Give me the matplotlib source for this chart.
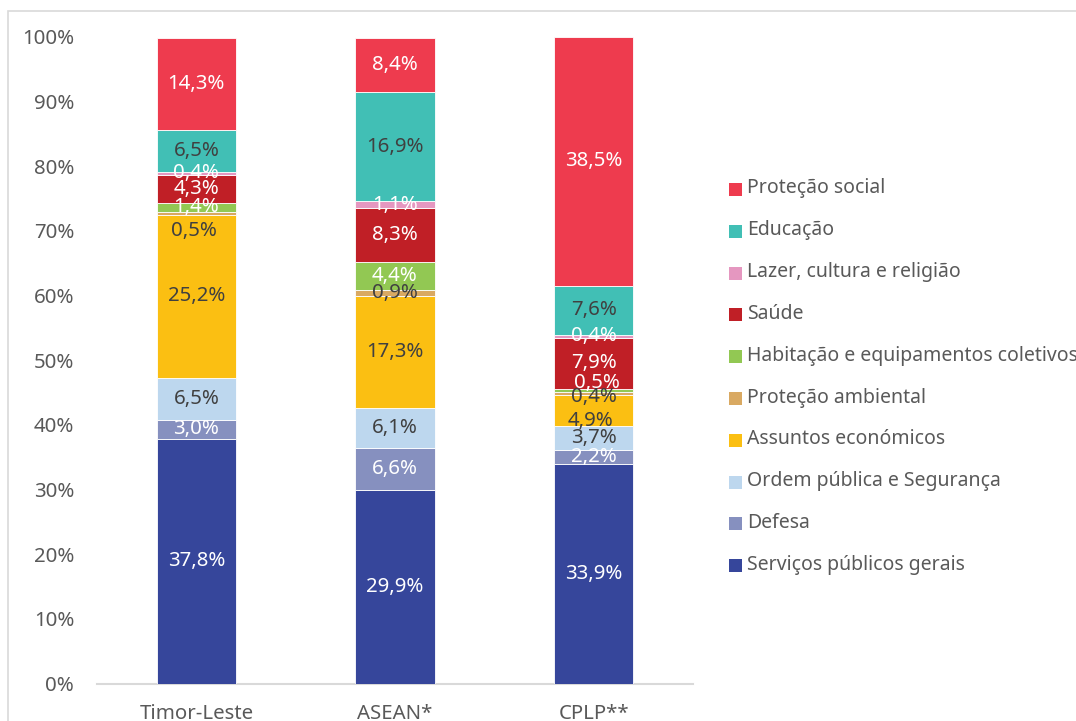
import matplotlib
matplotlib.use("Agg")
import matplotlib.pyplot as plt
from matplotlib.patches import Rectangle
import numpy as np

plt.rcParams['font.family'] = ['Noto Sans', 'DejaVu Sans']

# Regions compared
categories = ["Timor-Leste", "ASEAN*", "CPLP**"]

# Spending functions, bottom of the stack first
functions = [
    "Serviços públicos gerais",
    "Defesa",
    "Ordem pública e Segurança",
    "Assuntos económicos",
    "Proteção ambiental",
    "Habitação e equipamentos coletivos",
    "Saúde",
    "Lazer, cultura e religião",
    "Educação",
    "Proteção social",
]

# Share of expenditure (%) per function, one list per region
timor_leste = [37.8, 3.0, 6.5, 25.2, 0.5, 1.4, 4.3, 0.4, 6.5, 14.3]
asean = [29.9, 6.6, 6.1, 17.3, 0.9, 4.4, 8.3, 1.1, 16.9, 8.4]
cplp = [33.9, 2.2, 3.7, 4.9, 0.4, 0.5, 7.9, 0.4, 7.6, 38.5]

yticks = [0, 10, 20, 30, 40, 50, 60, 70, 80, 90, 100]

colors = ["#36469B", "#8690BF", "#BDD7EE", "#FBBF12", "#D9A962",
          "#92C853", "#C01F26", "#E597C0", "#41BFB5", "#EE3B4E"]
label_colors = ["white", "white", "#404040", "#404040", "#404040",
                "white", "white", "white", "#404040", "white"]

# Nudges (points) for labels of thin segments that would otherwise collide
label_nudge = {(0, 4): (-2, -13), (2, 5): (2, 5), (2, 4): (0, -3), (2, 3): (-2, -8)}

W, H = 1076, 721
fig = plt.figure(figsize=(W / 100, H / 100), dpi=100)
ax = fig.add_axes([97 / W, 1 - 683.5 / H, (693 - 97) / W, (683.5 - 37) / H])

fs = 14.7
fs_leg = 14.0
tick_col = "#595959"

data = np.array([timor_leste, asean, cplp])
x = np.arange(len(categories))
bottom = np.zeros(len(categories))
for j, name in enumerate(functions):
    vals = data[:, j] / 100.0
    ax.bar(x, vals, 0.4, bottom=bottom, color=colors[j],
           edgecolor="white", linewidth=0.6, zorder=2)
    for i in range(len(categories)):
        dx, dy = label_nudge.get((i, j), (0, 0))
        ax.annotate(f"{data[i, j]:.1f}%".replace(".", ","),
                    (x[i], bottom[i] + vals[i] / 2),
                    xytext=(dx, dy), textcoords="offset points",
                    ha="center", va="center", fontsize=fs,
                    color=label_colors[j], zorder=3)
    bottom += vals

ax.set_xlim(-0.5, 2.5)
ax.set_ylim(0, 1)
ax.set_yticks(np.array(yticks) / 100.0)
ax.set_yticklabels([f"{t}%" for t in yticks])
ax.set_xticks(x)
ax.set_xticklabels(categories)
ax.tick_params(axis="y", length=0, pad=16.5, labelsize=fs, labelcolor=tick_col)
ax.tick_params(axis="x", length=0, pad=15, labelsize=fs, labelcolor=tick_col)
for s in ["top", "right", "left"]:
    ax.spines[s].set_visible(False)
ax.spines["bottom"].set_color("#D9D9D9")
ax.spines["bottom"].set_linewidth(1.5)
ax.spines["bottom"].set_zorder(1)

# Legend, top entry = top of the stack
leg_y0, leg_dy = 187, 41.8
for k, j in enumerate(range(len(functions) - 1, -1, -1)):
    yc = leg_y0 + k * leg_dy
    fig.patches.append(Rectangle((729 / W, 1 - (yc + 9) / H), 13 / W, 13 / H,
                                 transform=fig.transFigure,
                                 facecolor=colors[j], edgecolor="none"))
    fig.text(747 / W, 1 - (yc + 1.5) / H, functions[j], ha="left", va="center",
             fontsize=fs_leg, color=tick_col)

# Chart frame
fig.patches.append(Rectangle((8 / W, -0.2), 1.2, 1.2 - 11 / H,
                             transform=fig.transFigure, facecolor="none",
                             edgecolor="#D9D9D9", linewidth=1.2, zorder=0))

fig.savefig("out.png", dpi=100)
